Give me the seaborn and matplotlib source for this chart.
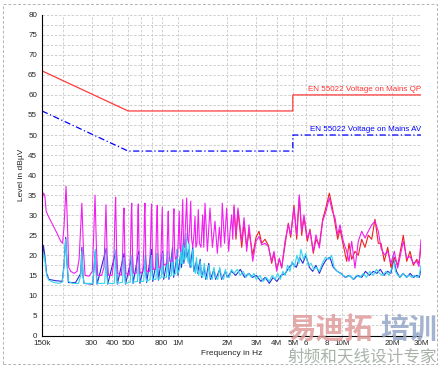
import numpy as np
import pandas as pd
import seaborn as sns
import matplotlib.pyplot as plt
from matplotlib.ticker import FixedLocator, FixedFormatter, MultipleLocator
from matplotlib.patches import Rectangle

# limit lines (kHz, dBuV)
qp_f = [150, 500, 5000, 5000, 30000]
qp_l = [66, 56, 56, 60, 60]
av_f = [150, 500, 5000, 5000, 30000]
av_l = [56, 46, 46, 50, 50]

# peak trace (magenta)
pk_f = [150, 153, 156, 159, 165, 175, 185, 195, 200, 204, 210, 214, 218, 224, 235, 245, 252, 262, 268, 274,
        290, 303, 309, 315, 321, 327, 345, 357, 363, 367, 373, 380, 400, 410, 416, 420, 426, 433, 455, 463,
        468, 472, 478, 485, 508, 517, 522, 526, 532, 540, 560, 569, 573, 577, 583, 591, 615, 624, 629, 633,
        640, 648, 675, 685, 691, 695, 702, 711, 733, 742, 748, 752, 759, 768, 788, 797, 803, 806, 814, 824,
        858, 868, 874, 877, 886, 896, 928, 939, 945, 949, 958, 970, 1000, 1013, 1022, 1032, 1045, 1062, 1073, 1085,
        1100, 1120, 1134, 1150, 1165, 1185, 1200, 1215, 1235, 1255, 1274, 1290, 1310, 1334, 1355, 1385, 1419, 1440, 1465, 1515,
        1571, 1625, 1685, 1740, 1790, 1830, 1865, 1925, 1983, 2040, 2080, 2127, 2160, 2197, 2259, 2323, 2448, 2528, 2625, 2710,
        2855, 2990, 3117, 3237, 3389, 3549, 3721, 3843, 3992, 4140, 4281, 4482, 4693, 4854, 5082, 5278, 5474, 5661, 5846, 6121,
        6357, 6658, 6914, 7242, 7593, 7950, 8328, 8683, 9018, 9364, 9671, 10127, 10619, 10967, 11388, 11925, 12489, 13095, 13718, 14364,
        15062, 15775, 16519, 17157, 17965, 18840, 19724, 20655, 21660, 23433, 24570, 25740, 26955, 28260, 29175, 30000]
pk_l = [33.5, 35.5, 35, 31, 29.5, 27.5, 25.5, 23.5, 23, 27, 37.2, 28, 17, 16, 15.5, 16, 19, 33, 21, 15,
        14.8, 16, 25, 35, 22, 15, 15, 17, 26, 32.6, 20, 15, 15, 19, 30, 34.5, 21, 15.5, 15, 20,
        29, 31.8, 20, 15.5, 15, 21, 30, 33, 20, 15.5, 15.5, 22, 31, 32.8, 20, 15.5, 16, 23, 31, 33,
        20, 16, 16, 24, 31, 32.8, 21, 16.5, 16.5, 25, 31, 32.5, 21, 17, 17, 25, 30.5, 32, 21, 17.5,
        18, 26, 30, 31, 21, 18.5, 18.5, 26, 30.5, 31.6, 21, 19, 20, 27, 31, 22, 21, 28, 33.9, 23,
        22, 29, 34.3, 24, 23, 28, 33.5, 24, 22, 25, 29.7, 22, 23, 31.4, 23, 22, 30.1, 22, 33, 21,
        31.8, 22, 28.5, 20.5, 27, 22, 33, 23, 31.8, 21, 26, 30.1, 24, 32.6, 25, 31.8, 23.5, 29.4, 21, 27.6,
        18.5, 23.5, 24.7, 22.6, 23, 22.2, 18.5, 21, 16, 19.3, 16.8, 23.5, 27.6, 25.1, 31.8, 25.1, 35.1, 26, 30.1, 24.3,
        26, 21, 25.1, 21.8, 28.5, 31, 34.3, 31, 29.4, 25.1, 27.6, 23.5, 21, 18.5, 23.5, 16.8, 23.5, 26, 24.3, 26,
        27.6, 28.5, 26, 21.8, 20.1, 21, 18, 21, 16.8, 23.5, 19.3, 19.7, 18, 18.5, 17.2, 23.9]

# second detector (red), upper band
qpk_f = [2197, 2259, 2323, 2448, 2528, 2625, 2710, 2855, 2990, 3117, 3237, 3389, 3549, 3721, 3843, 3992, 4140, 4281, 4482, 4693,
         4854, 5082, 5278, 5474, 5661, 5846, 6121, 6357, 6658, 6914, 7242, 7593, 7950, 8328, 8683, 9018, 9364, 9671, 10127, 10619,
         10967, 11388, 11925, 12489, 13095, 13718, 14364, 15062, 15775, 16519, 17157, 17965, 18840, 19724, 20655, 21660, 23433, 24570, 25740, 26955,
         28260, 29175, 30000]
qpk_l = [32, 24, 31, 22, 28, 22, 26, 20, 24.5, 26, 23, 24, 22.5, 18, 20.5, 16.5, 19, 17, 22.5, 28,
         24.5, 32.5, 24, 34.5, 25, 29.5, 23.5, 26.5, 20.5, 24, 22.5, 29, 32, 35.5, 32, 28, 24, 26.5, 22.5, 18.5,
         23, 19, 21, 20, 24, 22, 25, 24, 29, 23, 23, 18.5, 22, 17, 19.5, 17.5, 25, 18.5, 21, 17.5,
         19, 18, 22]

# average traces (blue, cyan)
av1_f = [150, 153, 156, 160, 165, 180, 199, 204, 209, 213, 217, 240, 258, 262, 266, 270, 305, 316, 324, 368,
         376, 421, 430, 473, 482, 526, 536, 580, 590, 636, 648, 694, 706, 751, 764, 809, 822, 870, 885, 931,
         945, 991, 1005, 1045, 1055, 1080, 1090, 1125, 1138, 1175, 1190, 1235, 1255, 1300, 1320, 1370, 1395, 1450, 1480, 1545,
         1580, 1660, 1700, 1800, 1850, 1950, 2000, 2120, 2250, 2400, 2550, 2700, 2850, 3000, 3200, 3400, 3600, 3800, 4000, 4250,
         4500, 4750, 5000, 5250, 5500, 5750, 6000, 6300, 6600, 6900, 7250, 7600, 8000, 8400, 8800, 9300, 9800, 10400, 11000, 11700,
         12400, 13100, 13800, 14600, 15400, 16200, 17000, 17900, 18800, 19700, 20500, 21300, 22300, 23400, 24600, 25800, 27000, 28300, 29300, 30000]
av1_l = [18, 22.5, 20, 15.5, 14, 13.7, 13.5, 17.5, 24.5, 18, 13.2, 13.2, 15.5, 22, 15, 13, 12.8, 21, 12.8, 21.7,
         12.8, 21, 12.8, 20.5, 12.8, 19.5, 13, 21, 13, 19, 13.2, 21.5, 13.5, 19.5, 13.8, 21, 14, 19.5, 14, 22,
         14.5, 20, 15, 21, 17, 23, 18, 24, 19.5, 21.5, 17, 22, 16, 18.5, 15.5, 19, 14.5, 17, 14, 18,
         14, 16.5, 14, 16.5, 14, 16, 14.5, 16, 15, 16.5, 14.5, 15.5, 14.5, 15, 13.5, 14.5, 13, 14.5, 13.5, 15,
         15.5, 17, 18, 17, 19.5, 18, 20, 17, 16, 17.5, 15.5, 17.5, 19, 19.5, 17, 16, 15.5, 14.5, 15, 14,
         15, 14.5, 16, 15, 16, 15.5, 16.5, 15, 16, 15.5, 19, 16, 14.5, 15.5, 14.5, 15.5, 14.5, 15, 14.5, 16.5]
av2_f = [150, 153, 156, 160, 165, 175, 190, 199, 204, 209, 213, 217, 230, 250, 258, 262, 266, 270, 305, 312,
         316, 320, 324, 360, 365, 368, 372, 376, 412, 417, 421, 425, 430, 462, 468, 473, 477, 482, 515, 521,
         526, 531, 536, 570, 576, 580, 584, 590, 622, 630, 636, 640, 648, 680, 688, 694, 700, 706, 738, 745,
         751, 757, 764, 795, 803, 809, 815, 822, 855, 864, 870, 876, 885, 915, 925, 931, 937, 945, 975, 985,
         991, 997, 1005, 1035, 1045, 1055, 1070, 1080, 1090, 1110, 1125, 1138, 1160, 1175, 1190, 1215, 1235, 1255, 1280, 1300,
         1320, 1345, 1370, 1395, 1420, 1450, 1480, 1510, 1545, 1580, 1620, 1660, 1700, 1750, 1800, 1850, 1900, 1950, 2000, 2060,
         2120, 2200, 2300, 2400, 2500, 2600, 2700, 2800, 2900, 3000, 3150, 3300, 3450, 3600, 3750, 3900, 4050, 4200, 4350, 4500,
         4650, 4800, 4950, 5100, 5300, 5450, 5600, 5800, 6000, 6200, 6450, 6700, 6950, 7250, 7550, 7900, 8300, 8600, 8900, 9300,
         9700, 10100, 10600, 11100, 11600, 12200, 12800, 13400, 14000, 14700, 15400, 16100, 16800, 17600, 18400, 19200, 19800, 20400, 21000, 21700,
         22500, 23400, 24400, 25400, 26400, 27400, 28400, 29300, 30000]
av2_l = [17, 20.5, 19, 15, 13.8, 13.3, 13, 13.3, 17, 24, 18, 13.5, 13, 13, 15, 21, 15, 13, 13, 18,
         21.5, 15, 13, 13, 17, 21.5, 15, 13, 13, 17, 21.5, 15, 13, 13.3, 17, 19.5, 15, 13, 13.3, 17,
         20, 15, 13.3, 13.5, 18, 20, 15, 13.5, 13.5, 18, 20, 15, 13.5, 14, 19, 20, 15, 14, 14, 18.5,
         20.5, 15, 14, 14.5, 19, 20.5, 15.5, 14.5, 14.5, 19, 21, 16, 14.5, 15, 19.5, 21, 16, 15, 15.5, 20,
         21.5, 16.5, 15.5, 17, 22, 18, 18, 24, 19, 19, 25.5, 20, 18, 23, 18, 17, 21.5, 16.5, 15.5, 19.5,
         16, 15, 18.5, 15, 14.5, 18, 14.5, 14, 17.5, 14.5, 14, 17, 14.5, 14, 17, 14.5, 14, 16.5, 14.5, 14.5,
         16.5, 15.5, 16.5, 15, 16, 14.5, 15.5, 14.5, 15.5, 14, 15, 13.5, 14.5, 13.5, 15, 14, 15.5, 14, 16, 15,
         17.5, 16, 18.5, 17, 20, 18, 21.5, 19, 20.5, 17.5, 18, 16.5, 17, 16, 18, 19.5, 19, 20, 17, 16,
         15.5, 15, 14.5, 15, 14, 15, 14.5, 15.5, 14.5, 16, 15, 16.5, 15.5, 15, 16, 15, 16.5, 20, 16, 15,
         14.5, 15.5, 14.5, 15, 14.5, 15, 14.5, 15, 17.5]

x_ticks = [150, 200, 300, 400, 500, 600, 700, 800, 1000, 2000, 3000, 4000, 5000, 6000, 8000, 10000, 20000, 30000]
x_labels = ["150k", "", "300", "400", "500", "", "", "800", "1M", "2M", "3M", "4M", "5M", "6", "8", "10M", "20M", "30M"]

sns.set_style("white")
plt.rcParams['font.family'] = ['Liberation Sans', 'DejaVu Sans']

fig = plt.figure(figsize=(4.41, 3.68), dpi=100)
ax = fig.add_axes([0.0952, 0.0883, 0.8594, 0.8717])
ax.set_xscale('log')


def trace(f, l, color, lw=0.8, ls='-'):
    df = pd.DataFrame({'f': np.array(f) * 1e3, 'l': l})
    sns.lineplot(data=df, x='f', y='l', ax=ax, color=color, lw=lw, linestyle=ls,
                 sort=False, estimator=None)


trace(av1_f, av1_l, '#2a2ad8', lw=0.8)
trace(av2_f, av2_l, '#33d6f0', lw=0.8)
trace(qpk_f, qpk_l, '#f02020', lw=0.8)
trace(pk_f, pk_l, '#f01ef0', lw=0.8)
trace(qp_f, qp_l, '#ff3a3a', lw=0.9)
trace(av_f, av_l, '#0000ff', lw=0.9, ls=(0, (5, 2, 1, 2)))

ax.text(30e6, 60.4, "EN 55022 Voltage on Mains QP", color='#ff3030', fontsize=5.8,
        ha='right', va='bottom')
ax.text(30e6, 50.4, "EN 55022 Voltage on Mains AV", color='#0000ff', fontsize=5.8,
        ha='right', va='bottom')

ax.set_xlim(150e3, 30e6)
ax.set_ylim(0, 80)
ax.xaxis.set_major_locator(FixedLocator([v * 1e3 for v in x_ticks]))
ax.xaxis.set_major_formatter(FixedFormatter(x_labels))
ax.xaxis.set_minor_locator(FixedLocator([]))
ax.yaxis.set_major_locator(MultipleLocator(5))
ax.yaxis.set_minor_locator(MultipleLocator(2.5))
ax.tick_params(axis='both', which='both', direction='inout', labelsize=5.8, color='black', width=0.7)
ax.tick_params(axis='both', which='major', length=4, pad=1.5)
ax.tick_params(axis='y', which='minor', length=3)
ax.grid(True, which='both', color='#c8c8c8', lw=0.6, linestyle=(0, (3, 2)))
for s in ['top', 'right']:
    ax.spines[s].set_visible(False)
for s in ['left', 'bottom']:
    ax.spines[s].set_color('black')
    ax.spines[s].set_linewidth(0.8)
ax.set_xlabel("Frequency in Hz", fontsize=6, labelpad=2)
ax.set_ylabel("Level in dBµV", fontsize=6, labelpad=2)

fig.patches.append(Rectangle((0.007, 0.01), 0.985, 0.98, transform=fig.transFigure, fill=False,
                             edgecolor='#b4b4b4', lw=0.7, linestyle=(0, (3, 2))))

# watermark
cjk = ['Noto Sans CJK SC', 'DejaVu Sans']
fig.text(0.652, 0.066, "易迪拓", color='#e09a9a', alpha=0.85, fontsize=20.5, family=cjk,
         fontweight='bold', ha='left', va='bottom')
fig.text(0.862, 0.066, "培训", color='#94a6c8', alpha=0.85, fontsize=20.5, family=cjk,
         fontweight='bold', ha='left', va='bottom')
fig.text(0.652, 0.008, "射频和天线设计专家", color='#a0aaa0', alpha=0.9, fontsize=12, family=cjk,
         ha='left', va='bottom')

fig.savefig("out.png", dpi=100)
